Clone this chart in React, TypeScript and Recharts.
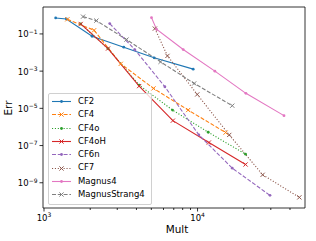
import React from 'react';
import { LineChart, Line, XAxis, YAxis, Legend, ReferenceArea, Label } from 'recharts';

// ---- data ----
const CF2_MULT = [1191, 1398, 2056, 3308, 5217, 9370];
const CF2_ERR = [0.72, 0.637, 0.075, 0.0193, 0.00518, 0.00128];

const CF4_MULT = [1419, 2119, 3162, 5164, 8689, 15230];
const CF4_ERR = [0.61, 0.157, 0.00247, 1.18e-4, 8.1e-6, 4.97e-7];

const CF4O_MULT = [1734, 2612, 4165, 6870, 11740, 20550];
const CF4O_ERR = [0.343, 0.0164, 1.78e-4, 8.1e-6, 5.18e-7, 3.43e-8];

const CF4OH_MULT = [1734, 2612, 4165, 6905, 11850, 20550];
const CF4OH_ERR = [0.343, 0.0164, 1.57e-4, 2.18e-6, 1.45e-7, 9.6e-9];

const CF6N_MULT = [2679, 3900, 6124, 10200, 16830, 29630];
const CF6N_ERR = [0.358, 0.0145, 1.45e-4, 3.73e-7, 6.1e-9, 2.1e-10];

const CF7_MULT = [5272, 6370, 9955, 16090, 26550, 46030];
const CF7_ERR = [0.193, 0.0066, 5.6e-5, 3.73e-7, 2.68e-9, 1.64e-10];

const MAGNUS4_MULT = [5012, 5403, 8064, 12970, 20650, 36560];
const MAGNUS4_ERR = [0.75, 0.178, 0.0145, 0.001, 6.4e-5, 4.05e-6];

const MSTRANG4_MULT = [1796, 2193, 3445, 5741, 9508, 16830];
const MSTRANG4_ERR = [0.85, 0.518, 0.0497, 0.00316, 2.18e-4, 1.39e-5];

const SERIES_NAMES = ['CF2', 'CF4', 'CF4o', 'CF4oH', 'CF6n', 'CF7', 'Magnus4', 'MagnusStrang4'];

const X_MAJOR = [1000, 10000];
const X_MINOR = [2000, 3000, 4000, 5000, 6000, 7000, 8000, 9000, 20000, 30000, 40000];
const Y_TICKS = [1e-1, 1e-3, 1e-5, 1e-7, 1e-9];
const X_DOMAIN = [985, 50100];
const Y_DOMAIN = [4.4e-11, 2.8];

// ---- styling ----
const FONT = 'DejaVu Sans, sans-serif';
const DASHED = '4 1.8';
const DOTTED = '1.1 1.8';

type Style = { color: string; dash?: string; marker: 'dot' | 'x' };
const STYLES: Style[] = [
  { color: '#1f77b4', marker: 'dot' },
  { color: '#ff7f0e', dash: DASHED, marker: 'x' },
  { color: '#2ca02c', dash: DOTTED, marker: 'dot' },
  { color: '#d62728', marker: 'x' },
  { color: '#9467bd', dash: DASHED, marker: 'dot' },
  { color: '#8c564b', dash: DOTTED, marker: 'x' },
  { color: '#e377c2', marker: 'dot' },
  { color: '#7f7f7f', dash: DASHED, marker: 'x' },
];

const zip = (xs: number[], ys: number[]) => xs.map((x, i) => ({ x, y: ys[i] }));

const SERIES_DATA = [
  zip(CF2_MULT, CF2_ERR),
  zip(CF4_MULT, CF4_ERR),
  zip(CF4O_MULT, CF4O_ERR),
  zip(CF4OH_MULT, CF4OH_ERR),
  zip(CF6N_MULT, CF6N_ERR),
  zip(CF7_MULT, CF7_ERR),
  zip(MAGNUS4_MULT, MAGNUS4_ERR),
  zip(MSTRANG4_MULT, MSTRANG4_ERR),
];

const Marker = ({ cx, cy, st }: { cx: number; cy: number; st: Style }) => {
  if (st.marker === 'x') {
    const s = 2.1;
    return (
      <g>
        <line x1={cx - s} y1={cy - s} x2={cx + s} y2={cy + s} stroke={st.color} strokeWidth={1} />
        <line x1={cx - s} y1={cy + s} x2={cx + s} y2={cy - s} stroke={st.color} strokeWidth={1} />
      </g>
    );
  }
  return <circle cx={cx} cy={cy} r={1.4} fill={st.color} />;
};

const makeDot = (st: Style) => (p: any) => {
  const { cx, cy, index } = p;
  if (cx == null || cy == null) return <g key={index} />;
  return (
    <g key={index}>
      <Marker cx={cx} cy={cy} st={st} />
    </g>
  );
};

const supExp = (v: number) => {
  const e = Math.round(Math.log10(v));
  return e < 0 ? '\u2212' + Math.abs(e) : String(e);
};

const XTick = (props: any) => {
  const { x, y, payload } = props;
  const v = payload.value;
  const major = X_MAJOR.includes(v);
  return (
    <g>
      <line x1={x} x2={x} y1={y} y2={y + (major ? 3.5 : 2)} stroke="#000" strokeWidth={0.8} />
      {major && (
        <text x={x} y={y + 12.5} textAnchor="middle" fontSize={8.5} fontFamily={FONT} fill="#000">
          10
          <tspan dy={-3.6} fontSize={6}>
            {supExp(v)}
          </tspan>
        </text>
      )}
    </g>
  );
};

const YTick = (props: any) => {
  const { x, y, payload } = props;
  const v = payload.value;
  return (
    <g>
      <line x1={x - 3.5} x2={x} y1={y} y2={y} stroke="#000" strokeWidth={0.8} />
      <text x={x - 5.5} y={y + 3.5} textAnchor="end" fontSize={8.5} fontFamily={FONT} fill="#000">
        10
        <tspan dy={-3.6} fontSize={6}>
          {supExp(v)}
        </tspan>
      </text>
    </g>
  );
};

const LegendBox = () => (
  <div
    style={{
      background: 'rgba(255,255,255,0.8)',
      border: '1px solid #d0d0d0',
      borderRadius: 2,
      padding: '1px 4px 3px 2px',
      fontFamily: FONT,
      fontSize: 8.5,
      lineHeight: '13.3px',
      color: '#000',
      width: 104,
      boxSizing: 'border-box',
    }}
  >
    {SERIES_NAMES.map((name, i) => {
      const st = STYLES[i];
      return (
        <div key={name} style={{ display: 'flex', alignItems: 'center', height: 13.3, whiteSpace: 'nowrap' }}>
          <svg width={27} height={13} style={{ flex: 'none' }}>
            <line x1={1} x2={20} y1={6.5} y2={6.5} stroke={st.color} strokeWidth={1.1} strokeDasharray={st.dash} />
            <Marker cx={10.5} cy={6.5} st={st} />
          </svg>
          <span>{name}</span>
        </div>
      );
    })}
  </div>
);

export default function App() {
  return (
    <div style={{ position: 'absolute', left: 0, top: 0, width: 316, height: 241, background: '#fff' }}>
      <LineChart width={316} height={241} margin={{ top: 7, right: 11, bottom: 0, left: 0 }}>
        <XAxis
          dataKey="x"
          type="number"
          scale="log"
          domain={X_DOMAIN}
          allowDataOverflow
          ticks={[...X_MAJOR, ...X_MINOR]}
          interval={0}
          tick={<XTick />}
          tickSize={0}
          tickMargin={0}
          axisLine={false}
          tickLine={false}
          height={33}
        >
          <Label
            content={() => (
              <text x={177} y={233} textAnchor="middle" fontSize={10.4} fontFamily={FONT} fill="#000">
                Mult
              </text>
            )}
          />
        </XAxis>
        <YAxis
          dataKey="y"
          type="number"
          scale="log"
          domain={Y_DOMAIN}
          allowDataOverflow
          ticks={Y_TICKS}
          interval={0}
          tick={<YTick />}
          tickSize={0}
          tickMargin={0}
          axisLine={false}
          tickLine={false}
          width={43}
        >
          <Label
            content={() => (
              <text
                x={11.5}
                y={108}
                textAnchor="middle"
                fontSize={10.4}
                fontFamily={FONT}
                fill="#000"
                transform="rotate(-90 11.5 108)"
              >
                Err
              </text>
            )}
          />
        </YAxis>
        {SERIES_NAMES.map((name, i) => (
          <Line
            key={name}
            name={name}
            data={SERIES_DATA[i]}
            dataKey="y"
            stroke={STYLES[i].color}
            strokeWidth={1.1}
            strokeDasharray={STYLES[i].dash}
            dot={makeDot(STYLES[i])}
            activeDot={false}
            isAnimationActive={false}
          />
        ))}
        <ReferenceArea
          x1={X_DOMAIN[0]}
          x2={X_DOMAIN[1]}
          y1={Y_DOMAIN[0]}
          y2={Y_DOMAIN[1]}
          fill="none"
          fillOpacity={0}
          stroke="#000"
          strokeWidth={0.8}
          ifOverflow="visible"
        />
        <Legend
          layout="vertical"
          align="center"
          verticalAlign="middle"
          wrapperStyle={{ left: 48, top: 93, width: 'auto' }}
          content={() => <LegendBox />}
        />
      </LineChart>
    </div>
  );
}
